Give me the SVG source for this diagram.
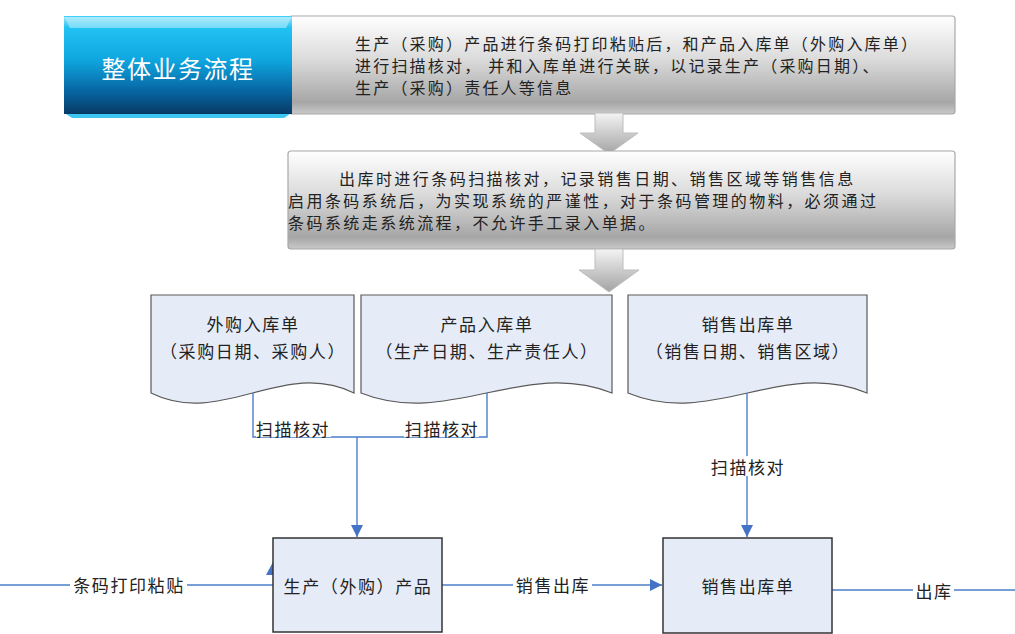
<svg xmlns="http://www.w3.org/2000/svg" width="1015" height="634" viewBox="0 0 1015 634">
<defs>
<linearGradient id="gBlue" x1="0" y1="0" x2="0" y2="1">
<stop offset="0" stop-color="#9FE6FB"/>
<stop offset="0.12" stop-color="#22C2F3"/>
<stop offset="0.45" stop-color="#0FA6DF"/>
<stop offset="0.75" stop-color="#0769A6"/>
<stop offset="1" stop-color="#073A66"/>
</linearGradient>
<linearGradient id="gGray" x1="0" y1="0" x2="0" y2="1">
<stop offset="0" stop-color="#FFFFFF"/>
<stop offset="0.45" stop-color="#DADADA"/>
<stop offset="0.88" stop-color="#A6A6A6"/>
<stop offset="1" stop-color="#C9C9C9"/>
</linearGradient>
<linearGradient id="gArrow" x1="0" y1="0" x2="0" y2="1">
<stop offset="0" stop-color="#F4F4F4"/>
<stop offset="1" stop-color="#A3A3A3"/>
</linearGradient>
<marker id="arr" markerWidth="14" markerHeight="14" refX="12" refY="6" orient="auto" markerUnits="userSpaceOnUse">
<path d="M0,0 L12,6 L0,12 Z" fill="#4472C4"/>
</marker>
<style>
text{font-family:"Noto Sans CJK SC","Noto Sans",sans-serif;fill:#222;dominant-baseline:central}
.t16{font-size:16px;letter-spacing:2.2px}
.t16b{font-size:16px;letter-spacing:2.45px}
.t17{font-size:17px;letter-spacing:1.6px;text-anchor:middle}
.doc{fill:#E6ECF7;stroke:#595959;stroke-width:1.2}
.box{fill:#E6ECF7;stroke:#333;stroke-width:1.5}
.con{fill:none;stroke:#4A7EC7;stroke-width:1.4}
.lbg{fill:#FFFFFF}
.gbox{fill:url(#gGray);stroke:#A8A8A8;stroke-width:1.2}
.garr{fill:url(#gArrow);stroke:#BDBDBD;stroke-width:1}
</style>
</defs>

<g id="info1">
<rect class="gbox" x="289" y="16" width="666" height="98" rx="3"/>
<text class="t16" x="355" y="43">生产（采购）产品进行条码打印粘贴后，和产品入库单（外购入库单）</text>
<text class="t16" x="355" y="65" xml:space="preserve">进行扫描核对， 并和入库单进行关联，以记录生产（采购日期）、</text>
<text class="t16" x="355" y="87">生产（采购）责任人等信息</text>
</g>

<g id="title">
<rect x="64" y="16" width="228" height="98" fill="url(#gBlue)"/>
<polygon points="64,16 292,16 286,28 70,28" fill="#BFF0FD" opacity="0.55"/>
<polygon points="66,114 290,114 284,118 72,118" fill="#3CC6F2"/>
<line x1="64" y1="16.5" x2="292" y2="16.5" stroke="#3FD0FA" stroke-width="1"/>
<text x="178" y="67" style="font-size:24px;letter-spacing:1.5px;fill:#FFFFFF;text-anchor:middle">整体业务流程</text>
</g>

<g id="arrow1">
<polygon class="garr" points="595,113 623,113 623,133 638,133 609,154 580,133 595,133"/>
</g>

<g id="info2">
<rect class="gbox" x="288" y="151" width="667" height="98" rx="3"/>
<text class="t16b" x="339" y="178">出库时进行条码扫描核对，记录销售日期、销售区域等销售信息</text>
<text class="t16b" x="288" y="200">启用条码系统后，为实现系统的严谨性，对于条码管理的物料，必须通过</text>
<text class="t16b" x="288" y="222">条码系统走系统流程，不允许手工录入单据。</text>
</g>

<g id="arrow2">
<polygon class="garr" points="595,249 623,249 623,270 639,270 609,292 579,270 595,270"/>
</g>

<g id="doc1">
<path class="doc" d="M151,295 H354 V393 C283,358 222,428 151,393 Z"/>
<text class="t17" x="253" y="323">外购入库单</text>
<text class="t17" x="253" y="350">（采购日期、采购人）</text>
</g>

<g id="doc2">
<path class="doc" d="M361,295 H612 V393 C524,358 449,428 361,393 Z"/>
<text class="t17" x="487" y="323">产品入库单</text>
<text class="t17" x="487" y="350">（生产日期、生产责任人）</text>
</g>

<g id="doc3">
<path class="doc" d="M628,295 H867 V393 C783,358 712,428 628,393 Z"/>
<text class="t17" x="748" y="323">销售出库单</text>
<text class="t17" x="748" y="350">（销售日期、销售区域）</text>
</g>

<g id="connectors">
<path class="con" d="M253,393 V437 H487 V393"/>
<path class="con" d="M357,437 V537" marker-end="url(#arr)"/>
<path class="con" d="M747,393 V537" marker-end="url(#arr)"/>
<path class="con" d="M0,585 H273"/>
<polygon points="266,575 273,562 273,575" fill="#4472C4"/>
<path class="con" d="M442,585 H662" marker-end="url(#arr)"/>
<path class="con" d="M832,590 H1015"/>
<rect class="lbg" x="256" y="418" width="75" height="19"/>
<text class="t17" x="293" y="428">扫描核对</text>
<rect class="lbg" x="404" y="418" width="75" height="19"/>
<text class="t17" x="442" y="428">扫描核对</text>
<rect class="lbg" x="708" y="456" width="78" height="20"/>
<text class="t17" x="748" y="466">扫描核对</text>
<rect class="lbg" x="70" y="574" width="117" height="20"/>
<text class="t17" x="129" y="584">条码打印粘贴</text>
<rect class="lbg" x="513" y="574" width="79" height="20"/>
<text class="t17" x="553" y="584">销售出库</text>
<rect class="lbg" x="913" y="580" width="41" height="20"/>
<text class="t17" x="934" y="590">出库</text>
</g>

<g id="product">
<rect class="box" x="273" y="538" width="169" height="94"/>
<text class="t17" x="358" y="585">生产（外购）产品</text>
</g>

<g id="salesout">
<rect class="box" x="663" y="538" width="169" height="95"/>
<text class="t17" x="748" y="585">销售出库单</text>
</g>
</svg>
